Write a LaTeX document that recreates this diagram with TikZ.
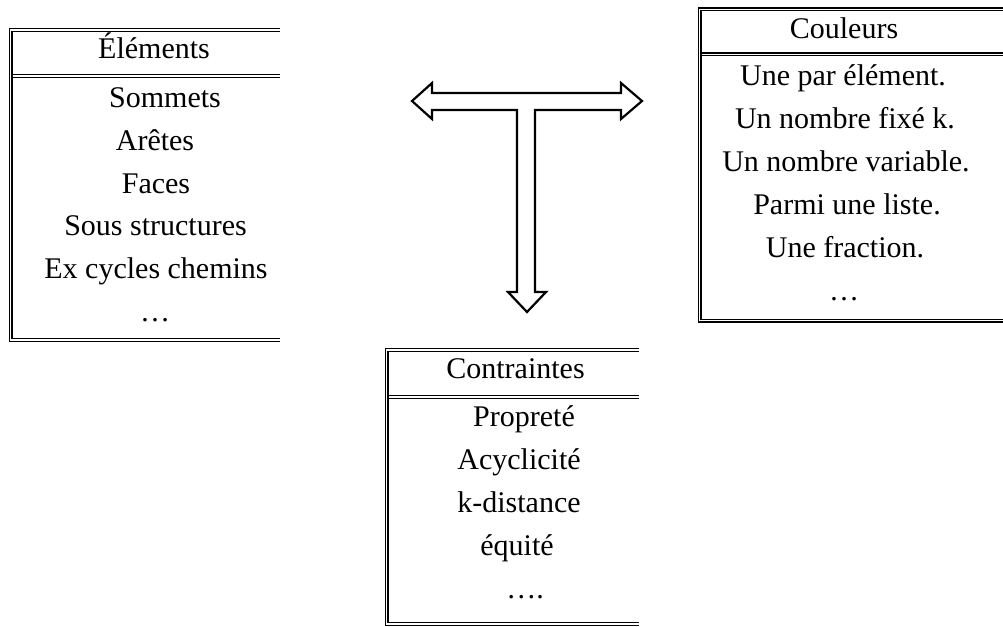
\documentclass[tikz,border=0pt]{standalone}
\usepackage{fontspec}
\setmainfont{Liberation Serif}
\begin{document}
\begin{tikzpicture}[x=1pt,y=-1pt,
  rule/.style={draw=black, double=white, double distance=1.2pt, line width=1.4pt},
  txt/.style={anchor=base, inner sep=0pt, font=\fontsize{30}{36}\selectfont},
  tarrow/.style={draw=black, line width=2.2pt, line join=miter, fill=white}]
\useasboundingbox (0,0) rectangle (1003,626);

% --- Table "Éléments" (open on the right)
\draw[rule] (280,30) -- (10.5,30) -- (10.5,340) -- (280,340);
\draw[rule] (12.5,76) -- (280,76);
\node[txt] (elh) at (154,59) {Éléments};
\node[txt] (el1) at (165,107) {Sommets};
\node[txt] (el2) at (155,150) {Arêtes};
\node[txt] (el3) at (156,193) {Faces};
\node[txt] (el4) at (155.5,235) {Sous structures};
\node[txt] (el5) at (156,278) {Ex cycles chemins};
\node[txt] (el6) at (155,321) {…};

% --- Table "Couleurs"
\draw[rule] (1003,9.5) -- (699.5,9.5) -- (699.5,320.5) -- (1003,320.5);
\draw[rule] (701.5,54.5) -- (1003,54.5);
\node[txt] (coh) at (844,38) {Couleurs};
\node[txt] (co1) at (843,85) {Une par élément.};
\node[txt] (co2) at (845,128) {Un nombre fixé k.};
\node[txt] (co3) at (846,171) {Un nombre variable.};
\node[txt] (co4) at (847,214) {Parmi une liste.};
\node[txt] (co5) at (845,257) {Une fraction.};
\node[txt] (co6) at (844,300) {…};

% --- Table "Contraintes"
\draw[rule] (639,350) -- (386.5,350) -- (386.5,624) -- (639,624);
\draw[rule] (388.5,397) -- (639,397);
\node[txt] (cth) at (515.5,378) {Contraintes};
\node[txt] (ct1) at (524,426) {Propreté};
\node[txt] (ct2) at (519,469) {Acyclicité};
\node[txt] (ct3) at (519,512) {k-distance};
\node[txt] (ct4) at (517,555) {équité};
\node[txt] (ct5) at (525,598) {….};

% --- T-shaped block arrow: left, right and down
\draw[tarrow] (412,101) -- (432,83) -- (432,93) -- (621,93) -- (621,83)
  -- (642,101) -- (621,119) -- (621,110) -- (535,110) -- (535,292)
  -- (546,292) -- (527,312) -- (508,292) -- (517,292) -- (517,110)
  -- (432,110) -- (432,119) -- cycle;
\end{tikzpicture}
\end{document}
